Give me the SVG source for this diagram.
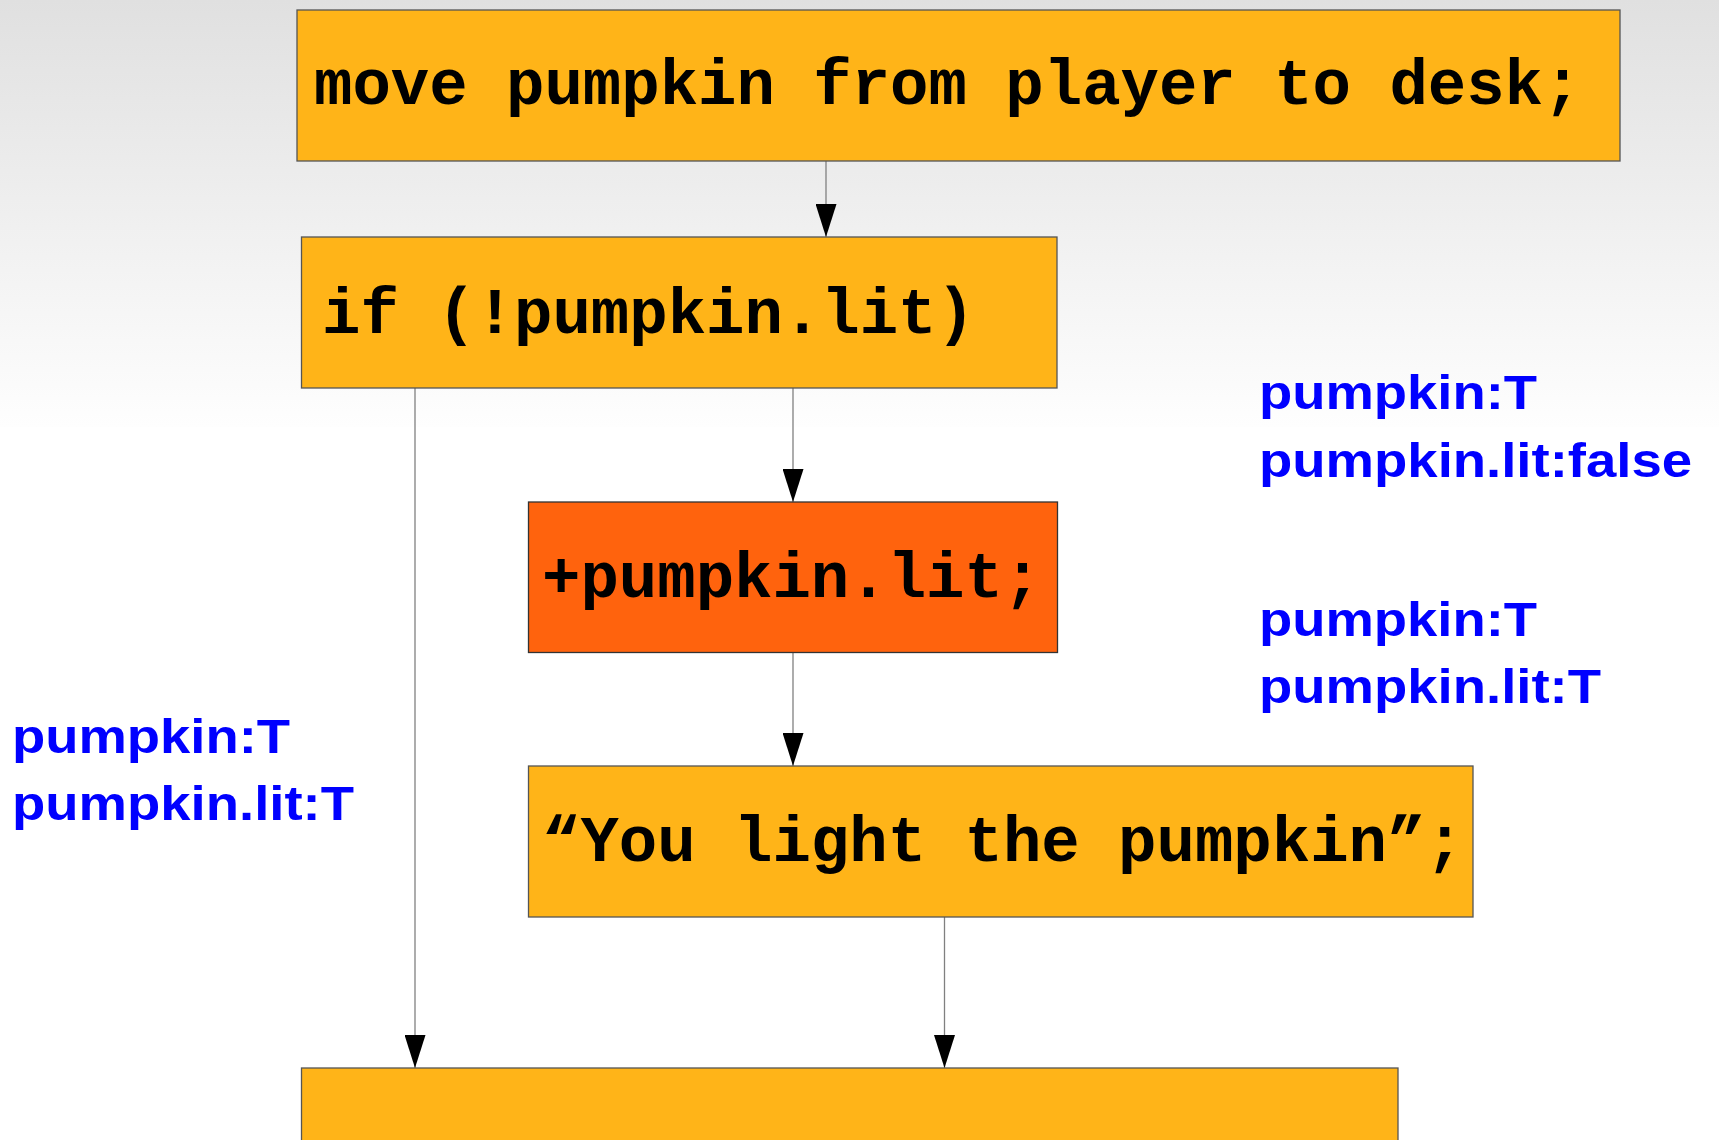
<svg xmlns="http://www.w3.org/2000/svg" width="1719" height="1140" viewBox="0 0 1719 1140">
  <defs>
    <linearGradient id="bg" x1="0" y1="0" x2="0" y2="1">
      <stop offset="0" stop-color="#e0e0e0"/>
      <stop offset="1" stop-color="#fefefe"/>
    </linearGradient>
    <marker id="arrow" markerUnits="userSpaceOnUse" markerWidth="33" markerHeight="21" refX="33" refY="10.5" orient="auto" viewBox="0 0 33 21">
      <path d="M0,0 L33,10.5 L0,21 Z" fill="#000"/>
    </marker>
    <style>
      .box { fill: #ffb418; stroke: #555; stroke-width: 1.3; }
      .hot { fill: #ff630d; stroke: #333; stroke-width: 1.3; }
      .code { font-family: "Liberation Mono", "Courier New", monospace; font-weight: bold; font-size: 64px; fill: #000; }
      .state { font-family: "Liberation Sans", Arial, sans-serif; font-weight: bold; font-size: 48px; fill: #0000ff; }
      .edge { stroke: #808080; stroke-width: 1.3; fill: none; marker-end: url(#arrow); }
    </style>
  </defs>

  <!-- slide background -->
  <rect x="0" y="0" width="1719" height="1140" fill="#ffffff"/>
  <rect x="0" y="0" width="1719" height="427" fill="url(#bg)"/>

  <!-- connectors -->
  <g id="connectors">
    <line class="edge" x1="826" y1="161" x2="826" y2="237"/>
    <line class="edge" x1="793" y1="388" x2="793" y2="502"/>
    <line class="edge" x1="793" y1="652" x2="793" y2="766"/>
    <line class="edge" x1="944.5" y1="917" x2="944.5" y2="1068"/>
    <line class="edge" x1="415" y1="388" x2="415" y2="1068"/>
  </g>

  <g id="move-stmt">
    <rect class="box" x="297" y="10" width="1323" height="151"/>
    <text class="code" x="314" y="104">move pumpkin from player to desk;</text>
  </g>

  <g id="if-stmt">
    <rect class="box" x="301.5" y="237" width="755.5" height="151"/>
    <text class="code" x="322" y="333">if (!pumpkin.lit)</text>
  </g>

  <g id="lit-stmt">
    <rect class="hot" x="528.5" y="502" width="529" height="150.5"/>
    <text class="code" x="542" y="597">+pumpkin.lit;</text>
  </g>

  <g id="say-stmt">
    <rect class="box" x="528.5" y="766" width="944.5" height="151"/>
    <text class="code" x="542" y="861">“You light the pumpkin”;</text>
  </g>

  <g id="next-stmt">
    <rect class="box" x="301.5" y="1068" width="1096.5" height="90"/>
  </g>

  <!-- state annotations -->
  <g id="state-before">
    <text class="state" x="1259" y="409" textLength="278" lengthAdjust="spacingAndGlyphs">pumpkin:T</text>
    <text class="state" x="1259" y="477" textLength="433" lengthAdjust="spacingAndGlyphs">pumpkin.lit:false</text>
  </g>
  <g id="state-after">
    <text class="state" x="1259" y="636" textLength="278" lengthAdjust="spacingAndGlyphs">pumpkin:T</text>
    <text class="state" x="1259" y="703" textLength="342" lengthAdjust="spacingAndGlyphs">pumpkin.lit:T</text>
  </g>
  <g id="state-skip">
    <text class="state" x="12" y="753" textLength="278" lengthAdjust="spacingAndGlyphs">pumpkin:T</text>
    <text class="state" x="12" y="820" textLength="342" lengthAdjust="spacingAndGlyphs">pumpkin.lit:T</text>
  </g>
</svg>
